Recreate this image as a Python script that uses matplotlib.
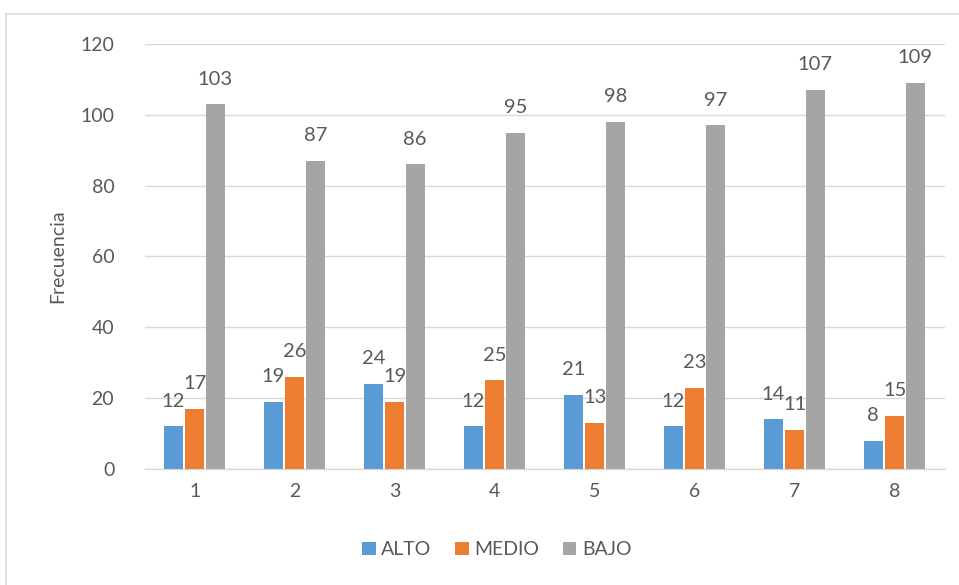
import matplotlib
matplotlib.use("Agg")
import matplotlib.pyplot as plt
import numpy as np
from matplotlib.patches import Rectangle

categories = ["1", "2", "3", "4", "5", "6", "7", "8"]
alto = [12, 19, 24, 12, 21, 12, 14, 8]
medio = [17, 26, 19, 25, 13, 23, 11, 15]
bajo = [103, 87, 86, 95, 98, 97, 107, 109]
series_names = ["ALTO", "MEDIO", "BAJO"]
colors = ["#5B9BD5", "#ED7D31", "#A5A5A5"]

plt.rcParams['font.family'] = ['Lato', 'DejaVu Sans']
txt = "#595959"

fig = plt.figure(figsize=(9.59, 5.85), dpi=100)
ax = fig.add_axes([0.151, 0.1983, 0.834, 0.7265])

x = np.arange(len(categories))
w = 0.19
offs = [-0.215, 0.0, 0.205]
for vals, off, c, name in zip([alto, medio, bajo], offs, colors, series_names):
    bars = ax.bar(x + off, vals, width=w, color=c, label=name, zorder=3)
    for b, v in zip(bars, vals):
        ax.annotate(str(v), (b.get_x() + b.get_width() / 2, v), xytext=(0, 12),
                    textcoords="offset points", ha="center", va="bottom",
                    fontsize=14.5, color=txt)

ax.set_xlim(-0.5, 7.5)
ax.set_ylim(0, 120)
ax.set_yticks(range(0, 121, 20))
ax.set_xticks(x)
ax.set_xticklabels(categories)
ax.grid(axis="y", color="#D9D9D9", linewidth=1, zorder=0)
for s in ["top", "right", "left"]:
    ax.spines[s].set_visible(False)
ax.spines["bottom"].set_color("#D9D9D9")
ax.spines["bottom"].set_linewidth(1)
ax.tick_params(axis="both", length=0, labelsize=14, colors=txt, pad=10)
ax.tick_params(axis="y", pad=22)
ax.set_ylabel("Frecuencia", fontsize=14, color=txt, labelpad=10)

ax.legend(loc="center", bbox_to_anchor=(0.44, -0.19), ncol=3, frameon=False,
          fontsize=14, handlelength=0.7, handleheight=0.7, handletextpad=0.3,
          columnspacing=1.2, labelcolor=txt)

fig.patches.append(Rectangle((6 / 959, -0.02), 1.1, 1 - 14 / 585 + 0.02,
                             transform=fig.transFigure, fill=False,
                             edgecolor="#D9D9D9", linewidth=1.2))

fig.savefig("out.png", dpi=100)
